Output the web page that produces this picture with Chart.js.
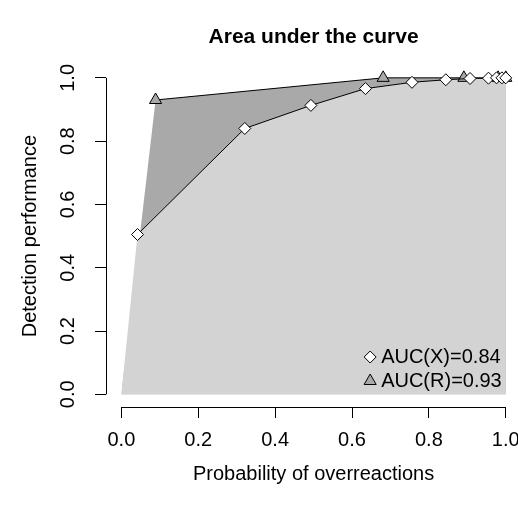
<!DOCTYPE html>
<html lang="en">
<head>
  <meta charset="UTF-8">
  <title>Area under the curve</title>
  <style>
    body {
      margin: 0;
      background-color: #fff;
      overflow: hidden;
    }
    .wrap {
      width: 530px;  /* plot region runs a little past the window edge, like the original */
      height: 505px;
    }
  </style>
</head>
<body>
  <div class="wrap"><canvas id="aucChart"></canvas></div>

  <script src="https://cdn.jsdelivr.net/npm/chart.js"></script>
  <script>
    // ROC points (false positive rate, detection rate); both curves start at the origin
    const fprX = [0, 0.042, 0.321, 0.493, 0.635, 0.756, 0.844, 0.907, 0.955, 0.976, 0.99, 1.0];
    const tprX = [0, 0.505, 0.840, 0.913, 0.966, 0.986, 0.994, 0.998, 0.999, 1.0, 1.0, 1.0];
    const fprR = [0, 0.089, 0.681, 0.891, 0.98, 1.0];
    const tprR = [0, 0.930, 1.0, 1.0, 1.0, 1.0];
    const axisTicks = [0, 0.2, 0.4, 0.6, 0.8, 1.0];
    const legendLabels = ['AUC(X)=0.84', 'AUC(R)=0.93'];

    const FONT = 'Liberation Sans, Arial, sans-serif';
    Chart.defaults.font.family = FONT;
    Chart.defaults.font.size = 20;
    Chart.defaults.color = '#000';

    const toPoints = (xs, ys) => xs.map((x, i) => ({ x: x, y: ys[i] }));

    // shaded area under a curve, origin included, no outline
    function areaSet(xs, ys, colour, order) {
      return {
        data: toPoints(xs, ys),
        order: order,
        borderColor: 'rgba(0,0,0,0)',
        borderWidth: 0,
        backgroundColor: colour,
        fill: { value: 0 },
        tension: 0,
        pointRadius: 0
      };
    }

    // the curve itself: markers joined by a thin black line (origin left out)
    function curveSet(label, xs, ys, style, radius, fillColour, order) {
      return {
        label: label,
        isCurve: true,
        data: toPoints(xs.slice(1), ys.slice(1)),
        order: order,
        borderColor: '#000',
        borderWidth: 1,
        fill: false,
        tension: 0,
        pointStyle: style,
        pointRadius: radius,
        pointBackgroundColor: fillColour,
        pointBorderColor: '#000',
        pointBorderWidth: 1
      };
    }

    // R-style axes: the axis line only runs from the first to the last tick
    const rAxes = {
      id: 'rAxes',
      afterDraw(chart) {
        const ctx = chart.ctx;
        const ca = chart.chartArea;
        const xs = chart.scales.x;
        const ys = chart.scales.y;
        const first = axisTicks[0];
        const last = axisTicks[axisTicks.length - 1];
        ctx.save();
        ctx.strokeStyle = '#000';
        ctx.lineWidth = 1;
        ctx.beginPath();
        ctx.moveTo(xs.getPixelForValue(first), Math.round(ca.bottom) + 0.5);
        ctx.lineTo(xs.getPixelForValue(last), Math.round(ca.bottom) + 0.5);
        ctx.moveTo(Math.round(ca.left) + 0.5, ys.getPixelForValue(first));
        ctx.lineTo(Math.round(ca.left) + 0.5, ys.getPixelForValue(last));
        ctx.stroke();

        // legend in the bottom right corner, no box
        const curves = chart.data.datasets.filter(ds => ds.isCurve);
        curves.forEach((ds, i) => {
          const y = ca.bottom - 50 + i * 24;
          const x = ca.right - 151;
          ctx.fillStyle = ds.pointBackgroundColor;
          ctx.strokeStyle = '#000';
          ctx.lineWidth = 1;
          Chart.helpers.drawPoint(ctx, {
            pointStyle: ds.pointStyle,
            radius: ds.pointRadius,
            borderWidth: 1
          }, x, y);
          ctx.fillStyle = '#000';
          ctx.font = '20px ' + FONT;
          ctx.textBaseline = 'middle';
          ctx.textAlign = 'left';
          ctx.fillText(ds.label, x + 11, y);
        });
        ctx.restore();
      }
    };

    const setTicks = (scale) => {
      scale.ticks = axisTicks.map(v => ({ value: v }));
    };

    new Chart(document.getElementById('aucChart'), {
      type: 'line',
      data: {
        datasets: [
          curveSet(legendLabels[0], fprX, tprX, 'rectRot', 6, '#fff', 0),
          curveSet(legendLabels[1], fprR, tprR, 'triangle', 7, '#a9a9a9', 1),
          areaSet(fprX, tprX, '#d3d3d3', 2),
          areaSet(fprR, tprR, '#a9a9a9', 3)
        ]
      },
      options: {
        responsive: true,
        maintainAspectRatio: false,
        animation: false,
        events: [],
        layout: {
          padding: { left: 14, right: 0, top: 0, bottom: 19 }
        },
        plugins: {
          legend: { display: false },
          tooltip: { enabled: false },
          filler: { drawTime: 'beforeDatasetsDraw' },
          title: {
            display: true,
            text: 'Area under the curve',
            fullSize: false,
            color: '#000',
            font: { size: 21, weight: 'bold' },
            padding: { top: 25, bottom: 15 }
          }
        },
        scales: {
          x: {
            type: 'linear',
            min: -0.04,
            max: 1.04,
            afterBuildTicks: setTicks,
            border: { display: false },
            grid: { drawOnChartArea: false, tickLength: 11, color: '#000' },
            ticks: { padding: 10, color: '#000', callback: v => v.toFixed(1) },
            title: {
              display: true,
              text: 'Probability of overreactions',
              color: '#000',
              padding: { top: 0, bottom: 0 }
            }
          },
          y: {
            type: 'linear',
            min: -0.04,
            max: 1.04,
            afterBuildTicks: setTicks,
            border: { display: false },
            grid: { drawOnChartArea: false, tickLength: 11, color: '#000' },
            ticks: {
              padding: 13,
              color: '#000',
              minRotation: 90,
              maxRotation: 90,
              crossAlign: 'center',
              callback: v => v.toFixed(1)
            },
            title: {
              display: true,
              text: 'Detection performance',
              color: '#000',
              padding: { top: 4, bottom: 3 }
            }
          }
        }
      },
      plugins: [rAxes]
    });
  </script>
</body>
</html>
